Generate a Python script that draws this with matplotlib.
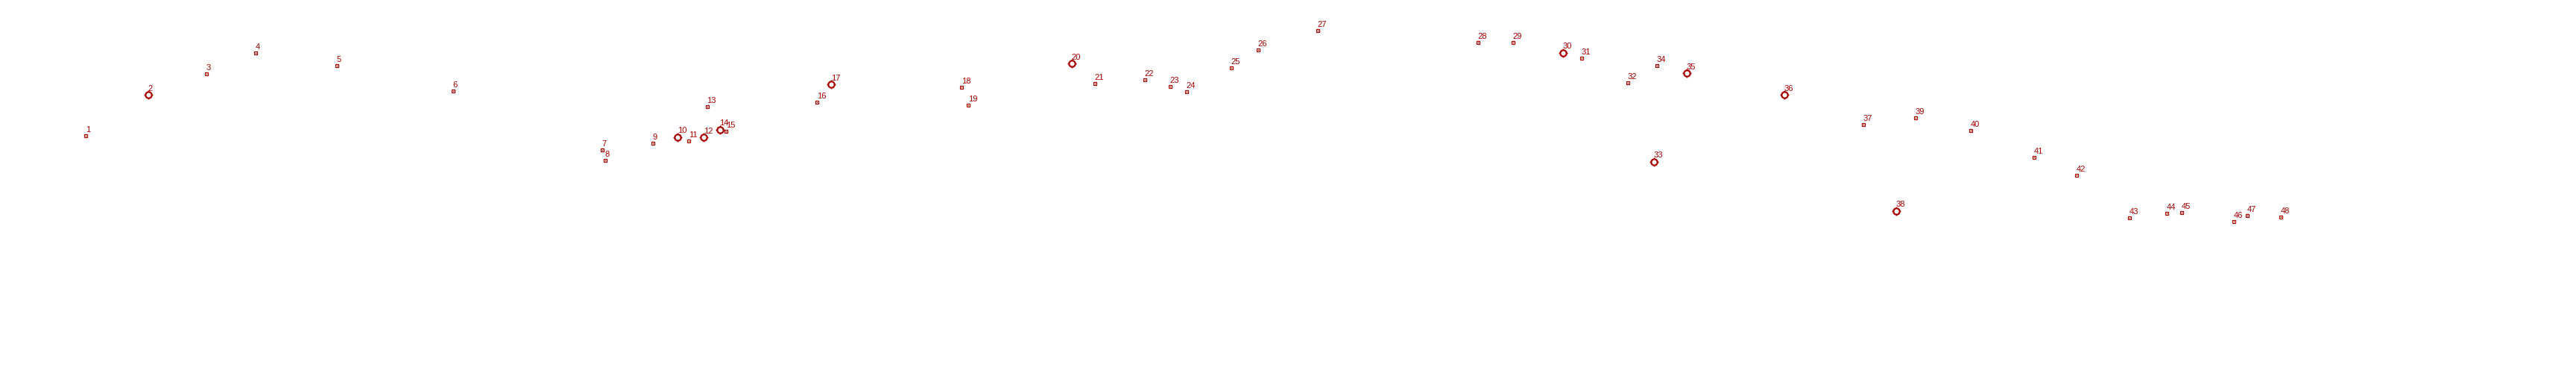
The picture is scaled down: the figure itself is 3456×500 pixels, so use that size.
import matplotlib
matplotlib.use("Agg")
import matplotlib.pyplot as plt

# Point ids, positions (horizontal / vertical units, vertical increasing downward) and type
labels = [str(i) for i in range(1, 49)]
xs = [115.3, 199.3, 277.3, 343.3, 452.3, 608.3, 808.3, 812.3, 876.3, 909.3,
      924.3, 944.3, 948.7, 966.0, 974.3, 1096.3, 1115.3, 1290.3, 1299.3, 1437.7,
      1469.3, 1536.3, 1570.3, 1592.3, 1652.3, 1688.3, 1768.3, 1983.3, 2030.3, 2097.3,
      2122.3, 2184.3, 2219.3, 2223.3, 2263.3, 2394.3, 2500.3, 2544.3, 2570.3, 2644.3,
      2729.3, 2786.3, 2857.3, 2907.3, 2927.3, 2997.3, 3015.3, 3060.3]
ys = [182.3, 127.3, 99.3, 71.3, 88.3, 122.3, 201.3, 215.3, 192.3, 183.7,
      189.3, 184.3, 143.3, 174.0, 176.3, 137.3, 113.3, 117.3, 141.3, 85.3,
      112.3, 107.3, 116.3, 123.3, 91.3, 67.3, 41.3, 57.3, 57.3, 71.0,
      78.3, 111.3, 216.7, 88.3, 98.3, 127.3, 167.3, 282.7, 158.3, 175.3,
      211.3, 235.3, 292.3, 286.3, 285.3, 297.3, 289.3, 291.3]
highlighted = ["2", "10", "12", "14", "17", "20", "30", "33", "35", "36", "38"]

COLOR = "#a80000"

fig = plt.figure(figsize=(34.56, 5.0), dpi=100)
ax = fig.add_axes([0, 0, 1, 1])
ax.set_xlim(0, 3456)
ax.set_ylim(500, 0)
ax.axis("off")

for lab, x, y in zip(labels, xs, ys):
    if lab in highlighted:
        ax.plot(x, y, marker="o", ms=6.0, mfc="white", mec=COLOR, mew=1.6,
                ls="none", zorder=3)
        ax.plot(x, y, marker="+", ms=8.5, mec=COLOR, mew=1.0, ls="none", zorder=2)
    else:
        ax.plot(x, y, marker="s", ms=3.4, mfc="white", mec=COLOR, mew=0.9,
                ls="none", zorder=3)
        ax.plot(x, y, marker="s", ms=0.6, mfc=COLOR, mec=COLOR, mew=0.3,
                ls="none", zorder=4)
    ax.annotate(lab, (x, y), xytext=(-0.5, 4.0), textcoords="offset points",
                ha="left", va="baseline", fontsize=8, color=COLOR,
                family=["Liberation Sans", "DejaVu Sans"])

fig.savefig("out.png", dpi=100, facecolor="white")
